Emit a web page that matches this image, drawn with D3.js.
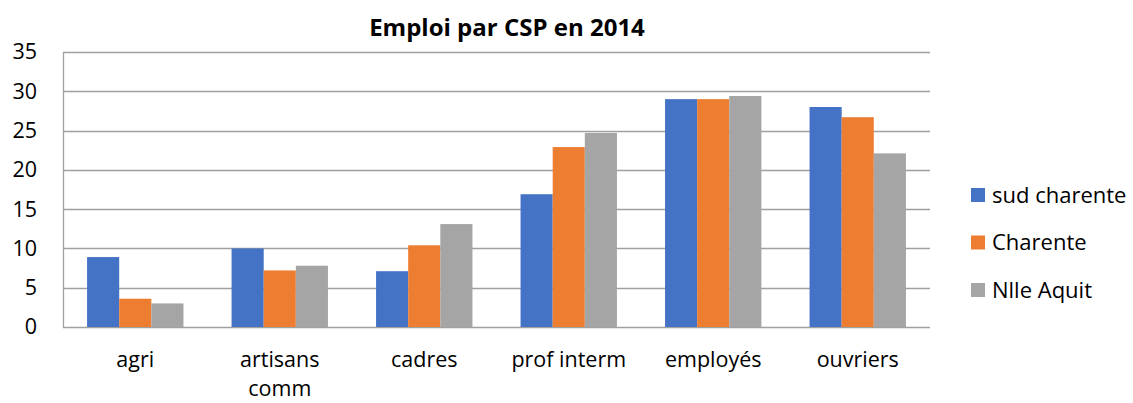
<!DOCTYPE html>
<html>
<head>
<meta charset="utf-8">
<script src="https://cdn.jsdelivr.net/npm/d3@7"></script>
<style>
  body { margin: 0; background: #fff; }
  svg { font-family: "Open Sans", "Noto Sans", sans-serif; }
</style>
</head>
<body>
<div id="chart"></div>
<script>
// Emploi par CSP en 2014
const categories = ['agri', 'artisans comm', 'cadres', 'prof interm', 'employés', 'ouvriers'];
const seriesNames = ['sud charente', 'Charente', 'Nlle Aquit'];
const sudCharente = [8.9, 10.0, 7.1, 16.9, 29.0, 28.0];
const charente = [3.6, 7.2, 10.4, 22.9, 29.0, 26.7];
const nlleAquit = [3.0, 7.8, 13.1, 24.7, 29.4, 22.1];
const yTicks = [0, 5, 10, 15, 20, 25, 30, 35];
const colors = ['#4472c4', '#ed7d31', '#a5a5a5'];

const seriesValues = [sudCharente, charente, nlleAquit];
const W = 1133, H = 403;
const margin = { top: 52, right: 203, bottom: 76, left: 63 };
const width = W - margin.left - margin.right;
const height = H - margin.top - margin.bottom;

const svg = d3.select('#chart').append('svg')
    .attr('width', W)
    .attr('height', H);

svg.append('text')
    .attr('x', 507)
    .attr('y', 36)
    .attr('text-anchor', 'middle')
    .style('font-size', '24px')
    .style('font-weight', '700')
    .style('fill', '#000')
    .text('Emploi par CSP en 2014');

const g = svg.append('g')
    .attr('transform', `translate(${margin.left},${margin.top})`);

const x0 = d3.scaleBand()
    .domain(categories)
    .range([0, width])
    .paddingInner(0.333)
    .paddingOuter(0.1667);

const x1 = d3.scaleBand()
    .domain(seriesNames)
    .range([0, x0.bandwidth()]);

const y = d3.scaleLinear()
    .domain([0, 35])
    .range([height, 0]);

// gridlines
g.selectAll('.grid')
    .data(yTicks)
    .enter()
    .append('line')
    .attr('x1', 0)
    .attr('x2', width)
    .attr('y1', d => Math.round(y(d)) + 0.5)
    .attr('y2', d => Math.round(y(d)) + 0.5)
    .attr('stroke', '#a0a0a0')
    .attr('stroke-width', 1.3);

// left axis line
g.append('line')
    .attr('x1', 0.5).attr('x2', 0.5)
    .attr('y1', 0).attr('y2', height)
    .attr('stroke', '#a0a0a0')
    .attr('stroke-width', 1.3);

// y labels
const yAxis = d3.axisLeft(y).tickValues(yTicks).tickSize(0).tickPadding(26);
g.append('g')
    .call(yAxis)
    .call(s => s.select('.domain').remove())
    .selectAll('text')
    .style('font-size', '21.5px')
    .style('font-family', '"Open Sans", "Noto Sans", sans-serif')
    .style('fill', '#000');

// bars
const groups = g.selectAll('.cat')
    .data(categories)
    .enter()
    .append('g')
    .attr('transform', d => `translate(${x0(d)},0)`);

groups.selectAll('rect')
    .data((d, i) => seriesNames.map((s, j) => ({ s, j, v: seriesValues[j][i] })))
    .enter()
    .append('rect')
    .attr('x', d => x1(d.s))
    .attr('y', d => y(d.v))
    .attr('width', x1.bandwidth())
    .attr('height', d => height - y(d.v))
    .attr('fill', d => colors[d.j]);

// category labels (split "artisans comm" onto two lines)
const xAxis = d3.axisBottom(x0).tickSize(0).tickPadding(0);
const xg = g.append('g')
    .attr('transform', `translate(0,${height})`)
    .call(xAxis);
xg.select('.domain').remove();
xg.selectAll('text')
    .style('font-size', '21.5px')
    .style('font-family', '"Open Sans", "Noto Sans", sans-serif')
    .style('fill', '#000')
    .attr('y', 40)
    .attr('dy', null)
    .each(function(d) {
        if (d === 'artisans comm') {
            const words = d.split(' ');
            const t = d3.select(this).text(null);
            t.append('tspan').attr('x', 0).attr('y', 40).text(words[0]);
            t.append('tspan').attr('x', 0).attr('y', 69).text(words[1]);
        }
    });

// legend
const legend = svg.append('g')
    .attr('transform', 'translate(971,195)');
seriesNames.forEach((name, i) => {
    const row = legend.append('g').attr('transform', `translate(0,${i * 47.5})`);
    row.append('rect')
        .attr('x', 0).attr('y', -7)
        .attr('width', 14).attr('height', 14)
        .attr('fill', colors[i]);
    row.append('text')
        .attr('x', 21).attr('y', 0)
        .attr('dy', '0.35em')
        .style('font-size', '22px')
        .style('fill', '#000')
        .text(name);
});
</script>
</body>
</html>
